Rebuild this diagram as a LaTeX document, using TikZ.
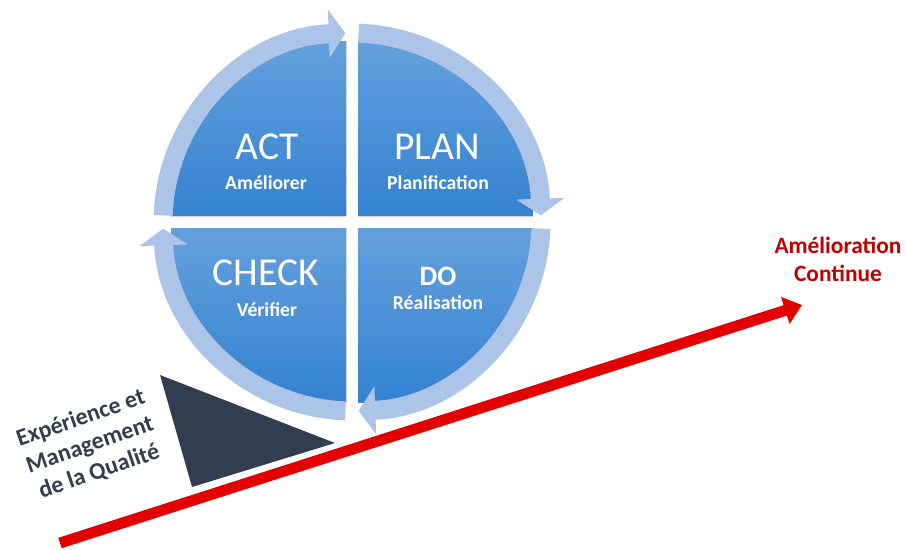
\documentclass[tikz,border=0pt]{standalone}
\usepackage{fontspec}
\setmainfont{Carlito}
\usetikzlibrary{arrows.meta}

\definecolor{quadlight}{RGB}{100,160,220}
\definecolor{quaddark}{RGB}{52,130,208}
\definecolor{ringblue}{RGB}{172,196,231}
\definecolor{slate}{RGB}{50,62,80}
\definecolor{redline}{RGB}{226,0,0}
\definecolor{redtext}{RGB}{192,0,0}

\tikzset{
	quad/.style={top color=quadlight, bottom color=quaddark, draw=none},
	ring/.style={draw=ringblue, line width=10.8pt,
		-{Triangle[width=27pt,length=9.5pt]}},
	title/.style={text=white, font=\fontsize{22.5}{27}\selectfont, inner sep=0pt},
	subtitle/.style={text=white, font=\bfseries\fontsize{11.2}{13}\selectfont, inner sep=0pt},
}

\begin{document}
\begin{tikzpicture}[x=0.02cm, y=0.02cm]

\def\qr{3.5cm}
\def\rr{3.78cm}

\path [use as bounding box] (0,0) rectangle (906,549);
\coordinate (centre) at (352,327);

% QUADRANTS
\fill [quad] (346,333) -- ++(-\qr,0) arc[start angle=180, end angle=90, radius=\qr] -- cycle;
\fill [quad] (358,333) -- ++(0,\qr) arc[start angle=90, end angle=0, radius=\qr] -- cycle;
\fill [quad] (358,321) -- ++(\qr,0) arc[start angle=0, end angle=-90, radius=\qr] -- cycle;
\fill [quad] (346,321) -- ++(0,-\qr) arc[start angle=270, end angle=180, radius=\qr] -- cycle;

% CYCLE ARROWS
\draw [ring] (centre) ++(178:\rr) arc[start angle=178, end angle=92, radius=\rr];
\draw [ring] (centre) ++(88:\rr) arc[start angle=88, end angle=2, radius=\rr];
\draw [ring] (centre) ++(-2:\rr) arc[start angle=-2, end angle=-88, radius=\rr];
\draw [ring] (centre) ++(268:\rr) arc[start angle=268, end angle=182, radius=\rr];

% LABELS
\node [title] (act) at (267,402) {ACT};
\node [subtitle] (actsub) at (266,366) {Améliorer};
\node [title] (plan) at (437,402) {PLAN};
\node [subtitle] (plansub) at (438,366) {Planification};
\node [title] (check) at (266,276) {CHECK};
\node [subtitle] (checksub) at (267,239) {Vérifier};
\node [title, font=\bfseries\fontsize{16}{19}\selectfont] (do) at (438,273) {DO};
\node [subtitle] (dosub) at (438,246) {Réalisation};

% WEDGE
\fill [slate] (160,174) -- (192,62) -- (335,106) -- cycle;
\node [text=slate, font=\bfseries\fontsize{13.6}{16}\selectfont, align=center, rotate=19, inner sep=0pt]
	(experience) at (90,104) {Expérience et\\Management\\de la Qualité};

% IMPROVEMENT
\coordinate (slopestart) at (60,6);
\coordinate (slopeend) at (802,244);
\draw [redline, line width=6.2pt, -{Triangle[width=15.5pt,length=10pt]}] (slopestart) -- (slopeend);
\node [text=redtext, font=\bfseries\fontsize{13.3}{15.9}\selectfont, align=center]
	(amelioration) at (838,290) {Amélioration\\Continue};

\end{tikzpicture}
\end{document}
